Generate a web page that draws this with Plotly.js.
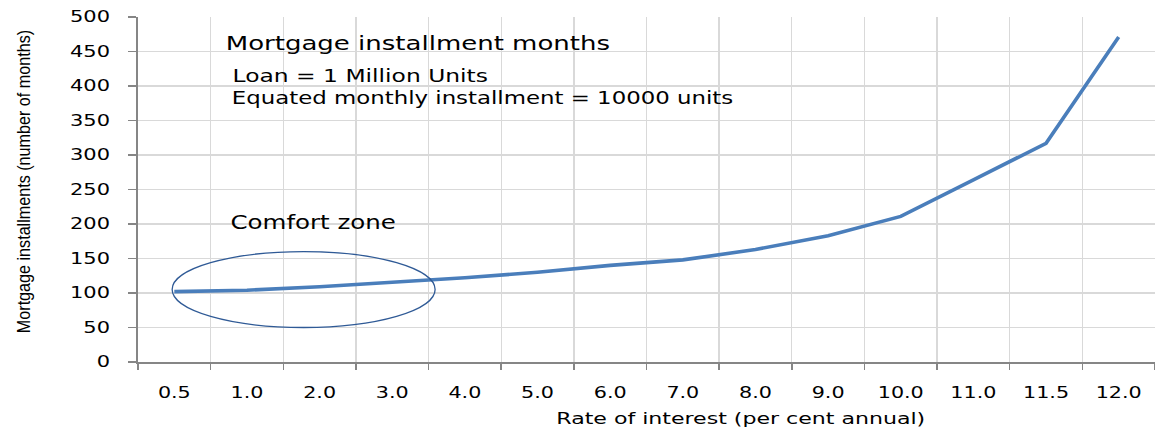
<!DOCTYPE html>
<html>
<head>
<meta charset="utf-8">
<script src="https://cdn.plot.ly/plotly-3.0.1.min.js"></script>
<style>
  html, body { margin: 0; padding: 0; background: #fff; }
  #chart { width: 1155px; height: 428px; }
  g.xtick { transform: scaleX(1.38); transform-box: fill-box; transform-origin: center; }
  g.ytick { transform: scaleX(1.4); transform-box: fill-box; transform-origin: right center; }
  .annotation[data-index="0"] text { transform: scaleX(1.30); transform-box: fill-box; transform-origin: center; }
  .annotation[data-index="1"] text { transform: scaleX(1.30); transform-box: fill-box; transform-origin: center; }
  .annotation[data-index="2"] text { transform: scaleX(1.27); transform-box: fill-box; transform-origin: center; }
  .annotation[data-index="3"] text { transform: scaleX(1.29); transform-box: fill-box; transform-origin: center; }
  .annotation[data-index="4"] text { transform: scaleX(1.38); transform-box: fill-box; transform-origin: center; }
  .annotation[data-index="5"] text { transform: scaleX(0.85); transform-box: fill-box; transform-origin: center; }
</style>
</head>
<body>
<div id="chart"></div>
<script>
const rates = ["0.5", "1.0", "2.0", "3.0", "4.0", "5.0", "6.0", "7.0", "8.0", "9.0", "10.0", "11.0", "11.5", "12.0"];
const months = [102, 104, 109, 115, 122, 130, 140, 148, 163, 183, 211, 264, 317, 471];
const yTicks = [0, 50, 100, 150, 200, 250, 300, 350, 400, 450, 500];
const comfortZone = { fromIndex: -0.03, toIndex: 3.59, low: 50, high: 160 };

const FONT = "DejaVu Sans, Verdana, sans-serif";
const NARROW = "Liberation Sans Narrow, Liberation Sans, sans-serif";

const trace = {
  x: rates,
  y: months,
  type: "scatter",
  mode: "lines",
  line: { color: "#4A7EBB", width: 3.6 },
  hoverinfo: "x+y"
};

const layout = {
  width: 1155,
  height: 428,
  margin: { l: 138, r: 0, t: 17, b: 66 },
  paper_bgcolor: "#ffffff",
  plot_bgcolor: "#ffffff",
  showlegend: false,
  xaxis: {
    type: "category",
    range: [-0.5, rates.length - 0.5],
    tickson: "boundaries",
    ticks: "outside",
    ticklen: 6,
    tickwidth: 1.5,
    tickcolor: "#868686",
    showline: true,
    linecolor: "#868686",
    linewidth: 2,
    showgrid: true,
    gridcolor: "#D9D9D9",
    gridwidth: 1.3,
    tickfont: { family: FONT, size: 15, color: "#000" },
    ticklabelstandoff: 16,
    zeroline: false,
    fixedrange: true
  },
  yaxis: {
    range: [0, 500],
    tickvals: yTicks,
    ticktext: yTicks.map(String),
    ticks: "outside",
    ticklen: 8,
    tickwidth: 1.5,
    tickcolor: "#868686",
    showline: true,
    linecolor: "#868686",
    linewidth: 2,
    showgrid: true,
    gridcolor: "#D9D9D9",
    gridwidth: 1.3,
    zeroline: false,
    tickfont: { family: FONT, size: 15, color: "#000" },
    ticklabelstandoff: 15,
    fixedrange: true
  },
  shapes: [{
    type: "circle",
    xref: "x",
    yref: "y",
    x0: comfortZone.fromIndex,
    x1: comfortZone.toIndex,
    y0: comfortZone.low,
    y1: comfortZone.high,
    line: { color: "#2F5A96", width: 1.3 },
    fillcolor: "rgba(0,0,0,0)"
  }],
  annotations: [
    {
      text: "Mortgage installment months",
      xref: "paper", yref: "paper",
      x: (418 - 138) / 1017, y: 1 - (43 - 17) / 345,
      xanchor: "center", yanchor: "middle",
      showarrow: false,
      font: { family: FONT, size: 20, color: "#000" }
    },
    {
      text: "Loan = 1 Million Units",
      xref: "paper", yref: "paper",
      x: (360 - 138) / 1017, y: 1 - (75 - 17) / 345,
      xanchor: "center", yanchor: "middle",
      showarrow: false,
      font: { family: FONT, size: 18, color: "#000" }
    },
    {
      text: "Equated monthly installment = 10000 units",
      xref: "paper", yref: "paper",
      x: (482 - 138) / 1017, y: 1 - (98 - 17) / 345,
      xanchor: "center", yanchor: "middle",
      showarrow: false,
      font: { family: FONT, size: 18, color: "#000" }
    },
    {
      text: "Comfort zone",
      xref: "paper", yref: "paper",
      x: (313 - 138) / 1017, y: 1 - (222 - 17) / 345,
      xanchor: "center", yanchor: "middle",
      showarrow: false,
      font: { family: FONT, size: 19, color: "#000" }
    },
    {
      text: "Rate of interest (per cent annual)",
      xref: "paper", yref: "paper",
      x: (741 - 138) / 1017, y: -(418 - 362) / 345,
      xanchor: "center", yanchor: "middle",
      showarrow: false,
      font: { family: FONT, size: 16, color: "#000" }
    },
    {
      text: "Mortgage installments (number of months)",
      xref: "paper", yref: "paper",
      x: (23 - 138) / 1017, y: 1 - (182 - 17) / 345,
      xanchor: "center", yanchor: "middle",
      textangle: -90,
      showarrow: false,
      font: { family: NARROW, size: 19, color: "#000" }
    }
  ]
};

Plotly.newPlot("chart", [trace], layout, { displayModeBar: false, staticPlot: true });
</script>
</body>
</html>
